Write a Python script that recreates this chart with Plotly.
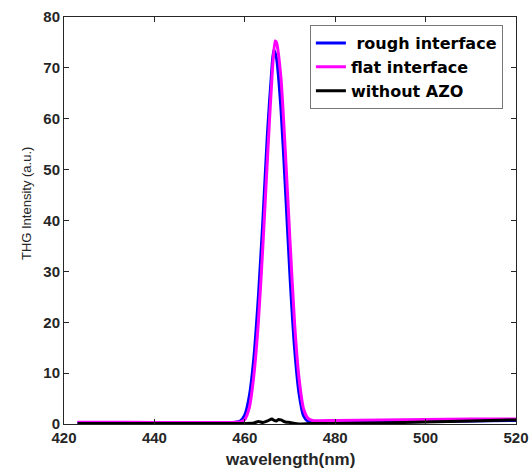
import plotly.graph_objects as go

wl_rough = [423, 430, 440, 450, 456, 458, 459, 460, 461, 462, 463, 464, 465, 466, 466.4, 467, 468, 469, 470, 471, 472, 473, 474, 475, 480, 490, 500, 510, 520]
rough = [0.3, 0.3, 0.25, 0.25, 0.3, 0.35, 0.6, 1.8, 5.5, 13, 25, 40, 57, 70, 73.5, 72, 62, 46, 29, 15, 6, 1.6, 0.5, 0.3, 0.35, 0.4, 0.5, 0.6, 0.7]

wl_flat = [423, 430, 440, 450, 456, 458, 459, 460, 461, 462, 463, 464, 465, 466, 466.7, 467, 468, 469, 470, 471, 472, 473, 474, 475, 480, 490, 500, 510, 520]
flat = [0.35, 0.35, 0.3, 0.3, 0.3, 0.35, 0.4, 0.9, 3.2, 9.5, 20, 35, 52, 68, 75.3, 75, 68, 53, 36, 20, 9, 3, 1.1, 0.7, 0.7, 0.8, 0.9, 1.0, 1.0]

wl_none = [423, 440, 450, 460, 462, 463, 464, 465, 466, 466.5, 467, 467.5, 468, 469, 470, 471, 472, 475, 480, 490, 500, 510, 520]
none = [0.1, 0.1, 0.1, 0.1, 0.2, 0.5, 0.3, 0.6, 1.0, 0.7, 0.6, 0.9, 0.8, 0.4, 0.3, 0.1, 0.0, 0.1, 0.1, 0.2, 0.4, 0.6, 0.8]

x_ticks = [420, 440, 460, 480, 500, 520]
y_ticks = [0, 10, 20, 30, 40, 50, 60, 70, 80]

fig = go.Figure()
fig.add_trace(go.Scatter(x=wl_rough, y=rough, mode="lines", name=" rough interface",
                         line=dict(color="#0000ff", width=3, shape="spline", smoothing=0.6)))
fig.add_trace(go.Scatter(x=wl_flat, y=flat, mode="lines", name="flat interface",
                         line=dict(color="#ff00ff", width=3, shape="spline", smoothing=0.6)))
fig.add_trace(go.Scatter(x=wl_none, y=none, mode="lines", name="without AZO",
                         line=dict(color="#000000", width=3, shape="spline", smoothing=0.6)))

axis_common = dict(showline=True, linecolor="#262626", linewidth=1, mirror="ticks",
                   ticks="inside", ticklen=5, tickcolor="#262626", showgrid=False, zeroline=False,
                   automargin=False,
                   tickfont=dict(family="Liberation Sans", size=15, color="#262626", weight="bold"))

fig.update_layout(
    width=529, height=468,
    margin=dict(l=64, r=13, t=17, b=44),
    plot_bgcolor="white", paper_bgcolor="white",
    xaxis=dict(range=[420, 520], tickvals=x_ticks, **axis_common),
    yaxis=dict(range=[0, 80], tickvals=y_ticks, **axis_common),
    legend=dict(x=0.544, y=0.98, xanchor="left", yanchor="top",
                bordercolor="#777777", borderwidth=1, bgcolor="white",
                itemwidth=30, tracegroupgap=0,
                font=dict(family="DejaVu Sans", size=16, color="black", weight="bold")),
    annotations=[
        dict(text="wavelength(nm)", xref="paper", yref="paper", x=0.5, y=-0.086,
             xanchor="center", yanchor="middle", showarrow=False,
             font=dict(family="Liberation Sans", size=17, color="#262626", weight="bold")),
        dict(text="THG Intensity (a.u.)", xref="paper", yref="paper", x=-0.084, y=0.5405,
             xanchor="center", yanchor="middle", textangle=-90, showarrow=False,
             font=dict(family="Liberation Sans", size=13, color="#262626")),
    ],
)

# remove the default page margin so the 529x468 figure fills the window exactly
fig.write_html("out.html", config={"displayModeBar": False},
               post_script="document.body.style.margin='0';document.body.style.overflow='hidden';")
